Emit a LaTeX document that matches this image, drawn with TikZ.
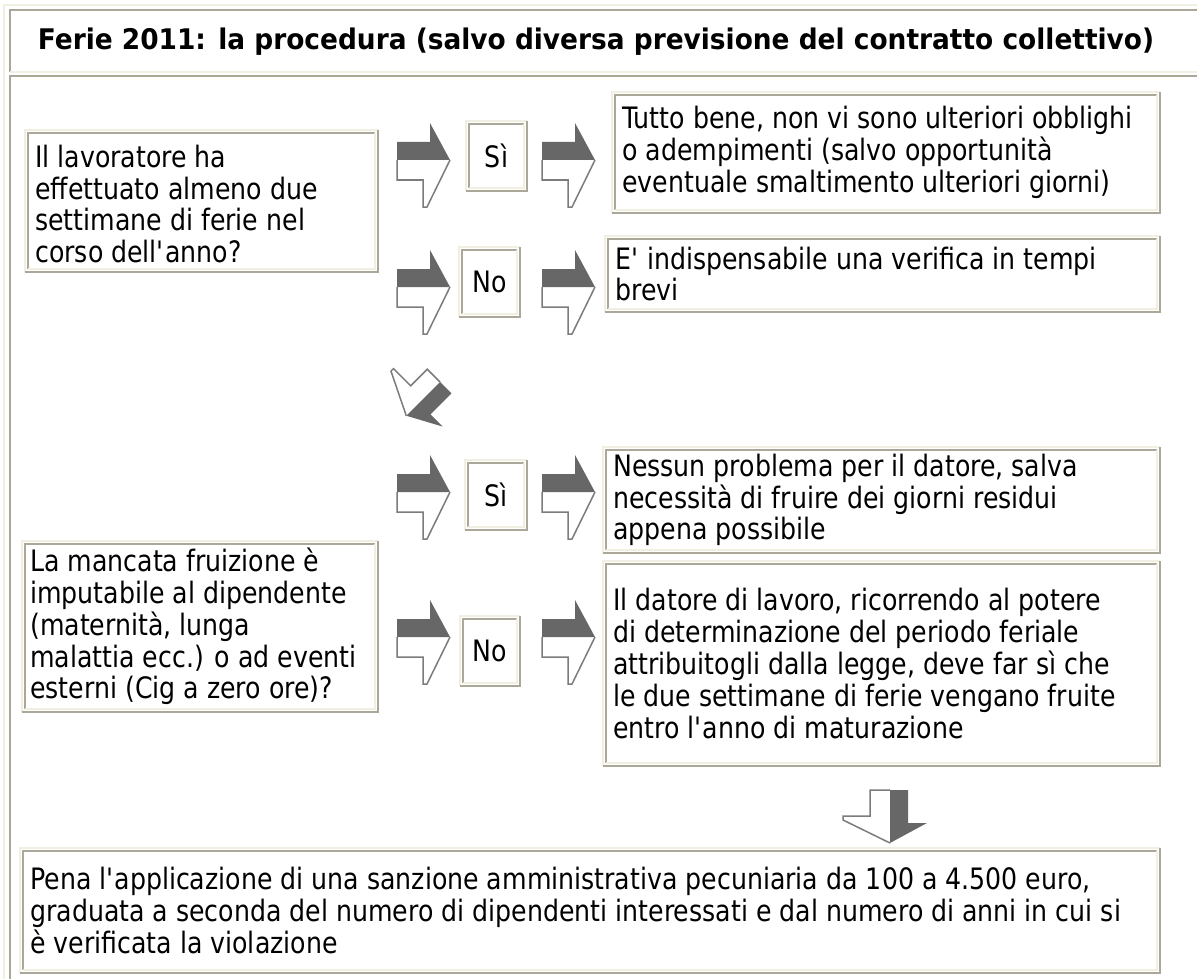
\documentclass[tikz,border=0pt]{standalone}
\usepackage{fontspec}
\setmainfont{DejaVu Sans}[FakeStretch=0.855]
\newfontfamily\tfont{DejaVu Sans}[FakeStretch=0.93]
\definecolor{lite}{HTML}{F1EFE2}
\definecolor{darkb}{HTML}{ACA899}
\definecolor{arrfill}{HTML}{676767}
\definecolor{arrline}{HTML}{7C7C7C}
\newcommand\ap{\textquotesingle}
\newcommand\dbord[1]{%
  \draw[lt] (#1.south west) -- (#1.north west) -- (#1.north east);
  \draw[dk] (#1.north east) -- (#1.south east) -- (#1.south west);
  \draw[dk] ([shift={(3,-3)}]#1.south west) -- ([shift={(3,3)}]#1.north west) -- ([shift={(-3,3)}]#1.north east);
  \draw[lt] ([shift={(-3,3)}]#1.north east) -- ([shift={(-3,-3)}]#1.south east) -- ([shift={(3,-3)}]#1.south west);
}
\begin{document}
\begin{tikzpicture}[x=1pt,y=-1pt,
  lt/.style={draw=lite, line width=1.6pt},
  dk/.style={draw=darkb, line width=1.6pt},
  box/.style={anchor=north west, inner sep=0pt, outer sep=0pt},
  txt/.style={anchor=west, align=left, inner sep=0pt, font=\fontsize{29.5}{31.8}\selectfont},
  yn/.style={box, font=\fontsize{29.5}{31.8}\selectfont},
  rarr/.pic={
    \fill[arrfill] (0,-18) -- (33,-18) -- (33,-37) -- (53,0) -- (0,0) -- cycle;
    \draw[arrline, line width=1.5pt] (0,0) -- (0,20) -- (26,20) -- (26,47) -- (30,47) -- (53,0);
  }
]
\useasboundingbox (0,0) rectangle (1197,979);
\clip (0,0) rectangle (1197,979);
\fill[white] (0,0) rectangle (1197,979);

% outer table and cells
\draw[lt] (4,990) -- (4,5) -- (1210,5);
\draw[dk] (10,72) -- (10,10) -- (1210,10);
\draw[lt] (10,72) -- (1210,72);
\draw[dk] (10,990) -- (10,76) -- (1210,76);

\node[font=\tfont\bfseries\fontsize{28.4}{30}\selectfont, inner sep=0pt] (title) at (596,42)
  {Ferie 2011: la procedura (salvo diversa previsione del contratto collettivo)};

% boxes
\node[box, minimum width=353, minimum height=142] (q1) at (25,130) {};
\node[txt] (q1t) at ([xshift=10,yshift=-3]q1.west) {Il lavoratore ha\\effettuato almeno due\\settimane di ferie nel\\corso dell\ap anno?};
\dbord{q1}

\node[yn, minimum width=61, minimum height=70] (si1) at (466,121) {Sì};
\dbord{si1}
\node[box, minimum width=548, minimum height=121] (tb) at (612,92) {};
\node[txt] (tbt) at ([xshift=10]tb.west) {Tutto bene, non vi sono ulteriori obblighi\\o adempimenti (salvo opportunità\\eventuale smaltimento ulteriori giorni)};
\dbord{tb}

\node[yn, minimum width=61, minimum height=70] (no1) at (459,247) {No};
\dbord{no1}
\node[box, minimum width=555, minimum height=76] (ei) at (605,236) {};
\node[txt] (eit) at ([xshift=10]ei.west) {E\ap\ indispensabile una verifica in tempi\\brevi};
\dbord{ei}

\node[yn, minimum width=62, minimum height=70] (si2) at (465,460) {Sì};
\dbord{si2}
\node[box, minimum width=557, minimum height=106] (ne) at (603,447) {};
\node[txt] (net) at ([xshift=10]ne.west) {Nessun problema per il datore, salva\\necessità di fruire dei giorni residui\\appena possibile};
\dbord{ne}

\node[box, minimum width=356, minimum height=171] (q2) at (22,541) {};
\node[txt] (q2t) at ([xshift=8]q2.west) {La mancata fruizione è\\imputabile al dipendente\\(maternità, lunga\\malattia ecc.) o ad eventi\\esterni (Cig a zero ore)?};
\dbord{q2}

\node[yn, minimum width=60, minimum height=70] (no2) at (460,616) {No};
\dbord{no2}
\node[box, minimum width=557, minimum height=205] (dl) at (603,561) {};
\node[txt] (dlt) at ([xshift=10]dl.west) {Il datore di lavoro, ricorrendo al potere\\di determinazione del periodo feriale\\attribuitogli dalla legge, deve far sì che\\le due settimane di ferie vengano fruite\\entro l\ap anno di maturazione};
\dbord{dl}

\node[box, minimum width=1140, minimum height=125] (pe) at (20,848) {};
\node[txt] (pet) at ([xshift=10]pe.west) {Pena l\ap applicazione di una sanzione amministrativa pecuniaria da 100 a 4.500 euro,\\graduata a seconda del numero di dipendenti interessati e dal numero di anni in cui si\\è verificata la violazione};
\dbord{pe}

% arrows
\pic at (397,160) {rarr};
\pic at (542,160) {rarr};
\pic at (397,287) {rarr};
\pic at (542,287) {rarr};
\pic at (397,492) {rarr};
\pic at (542,492) {rarr};
\pic at (397,637) {rarr};
\pic at (542,637) {rarr};
\pic[rotate=-135, scale=0.9] at (440,382) {rarr};
\pic[rotate=-90] at (890,790) {rarr};
\end{tikzpicture}
\end{document}
